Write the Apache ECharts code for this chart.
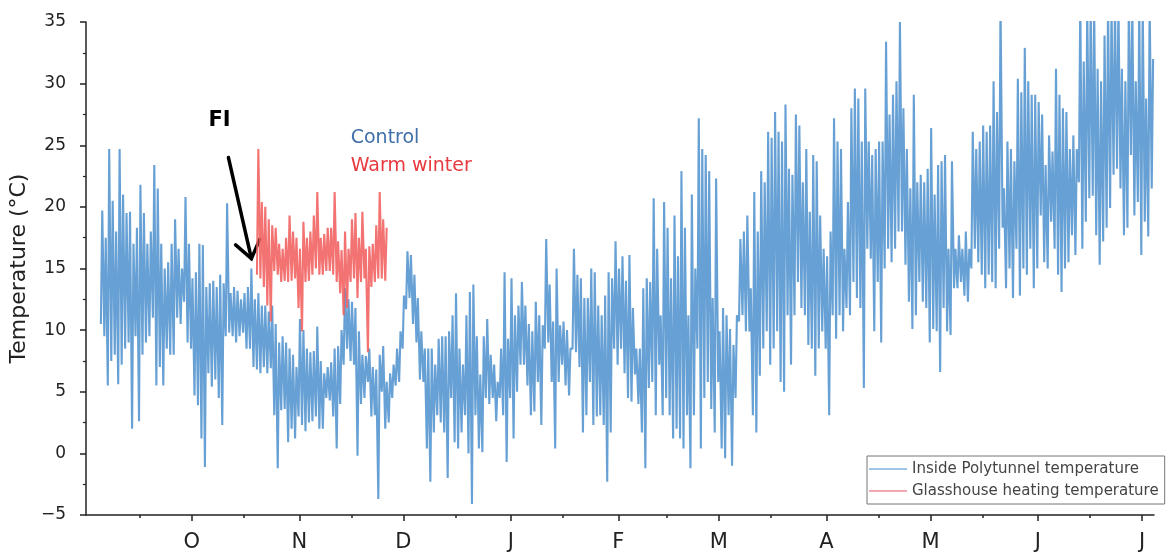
<!DOCTYPE html>
<html><head><meta charset="utf-8">
<script src="https://cdn.jsdelivr.net/npm/echarts@6/dist/echarts.min.js"></script>
<style>html,body{margin:0;padding:0;background:#fff}#c{width:1175px;height:558px}</style>
</head><body><div id="c"></div>
<script>
// ---------- data ----------
const monthLabels = ['O','N','D','J','F','M','A','M','J','J'];
const monthStarts = ['2019-10-01','2019-11-01','2019-12-01','2020-01-01','2020-02-01','2020-03-01','2020-04-01','2020-05-01','2020-06-01','2020-07-01'];
const midMonths = ['2019-09-16','2019-10-16','2019-11-16','2019-12-16','2020-01-16','2020-02-15','2020-03-16','2020-04-16','2020-05-16','2020-06-16'];

// Inside Polytunnel temperature: daily maximum / minimum, first day 2019-09-05
const polyStart = '2019-09-05';
const polyMax = [
 19.7,17.5,24.7,20.5,18,24.7,21,19.5,19.6,17,
 18.3,21.8,19.5,17,18,23.4,21.5,17,15,15.5,
 17,19,16.6,15,20.8,17,14.2,14.7,17,16.9,
 13.5,13.8,14,13.5,14.5,13.8,20.3,13,13.5,13.2,
 12.5,13,13.5,15,12.5,13,12,12,11.5,12,
 10.5,9,9.5,9,8.5,8,7,10.9,10,8.5,
 8.2,8.3,10.3,7.5,6.5,7,7.4,8.5,8.7,10,
 13.4,12.5,12.3,11.8,9.9,8,7.9,8.5,7,6.8,
 8,8.7,5.8,6.5,7.2,8.5,9.9,12.8,16.4,16.1,
 14.5,12.6,9.9,8.5,8.5,8.5,7.2,9.3,9.5,9.5,
 9.9,11.2,13,8.5,7.2,11.2,13.1,13.7,9.5,6.4,
 9.5,10.9,8,7.2,5.8,8.5,14.7,9.3,14.2,11.2,
 12,13.9,12,10.5,9.9,12.3,11.2,10.4,17.4,13.7,
 10.7,15,10.4,10.7,10,8.5,16.6,14.5,14.2,12.6,
 12.6,15,14.7,12,11.2,12.8,14.7,14.2,17.2,15,
 16,14,16.1,11.8,8.5,8.5,13.4,14.2,13.9,20.7,
 16.6,11.2,20.4,18.3,14.2,19.3,16,22.9,18.3,11.2,
 21,15,27.2,24.7,24.2,22.9,12.6,22.3,9.9,11.8,
 11.2,10.1,8.8,11.2,17.4,18,19.3,13.4,21.2,18,
 22.9,22,26.1,25.6,27.7,26.1,25.3,28.3,23.1,22.6,
 27.5,26.6,22,24.7,19.6,24.2,23.7,19.3,16.6,16,
 18,27.2,25.3,24.7,16.6,20.4,28,29.6,28.8,25.3,
 29.6,25.3,24.2,24.7,25.3,25.3,33.4,27.5,29.1,30.2,
 35,28,24.7,21.5,29.1,22,22.6,22,23.1,26.4,
 21,23.4,23.7,24.2,16.6,23.7,16.6,17.7,16.6,18,
 16.6,26.1,24.7,25.3,26.6,26.1,26.6,30.2,27.7,36.5,
 21.5,25.3,24.7,23.7,30.4,29.3,32.9,30.2,29.1,29.1,
 28.5,27.5,23.4,25.8,24.5,31.2,29.1,28,27.7,24.7,
 25.8,24.7,36.5,31.8,36.5,36.5,36.5,31.2,30.2,33.9,
 36.5,36.5,36.5,36.5,31.2,30.2,36.5,36.5,30.2,36.5,
 36.5,28.8,36.5,32
];
const polyMin = [
 10.5,9.5,5.5,7.5,8,5.6,7.2,8.5,9,2,
 9.5,2.6,8,9,9.5,11,5.5,7,5.5,8.5,
 8,8,11,10.5,12.3,9,8.5,4.7,3.9,1.2,
 -1.1,6.5,5.4,6,4.5,2.3,9.5,9.8,9.5,9,
 9.5,9.8,8.5,8.5,7,6.8,6.5,7,6.5,6.9,
 3.1,-1.2,3.5,3.6,0.9,2,1.2,3,2.3,1.8,
 2.5,2.6,3,2,2,4.5,4.3,3,0.4,4,
 7.2,8.5,7.5,7.2,-0.2,4,4.5,5.8,3,3.1,
 -3.7,5,2,2.5,4.5,5.5,5.8,8.5,11.7,12.6,
 10.5,9,6,5.8,0.4,-2.3,1.7,3.1,2.5,1.7,
 -2,4.5,0.9,0.4,1.7,3.1,0,-4.1,3.1,0.4,
 0.1,4.5,4,4.5,2.6,4.5,3.1,-0.7,4.5,1.2,
 5,7.2,7.2,5.5,3.1,3.4,5.8,2.3,8.5,9,
 5.8,0.4,5.8,7.2,5.5,4.7,8.5,8.2,7,1.7,
 3.1,5.8,2.3,3,3.1,2.3,-2.3,1.7,8.5,7.2,
 8.5,6.5,4.5,4.2,6.4,4,1.7,-1.2,5.3,5.8,
 3.1,7.2,3.1,4.5,3.1,1.2,2,1.2,0.4,3.1,
 -1.2,3.1,8.5,0.4,4.5,5.8,3.6,1.7,5.8,0.4,
 -0.4,3.1,-1,4.5,10.7,11.2,9.9,9.9,3.1,1.7,
 6.3,8.5,9.9,7.2,8.5,9.9,5.8,5,11.2,7.2,
 11.2,13.9,11.8,11.2,8.8,8.5,6.3,8.5,9.9,8.5,
 3.1,11.2,9.3,11.2,9.9,11.8,11.2,13.9,12.6,11.8,
 5.3,16.6,15.8,9.9,13.9,9,15,16.6,15.5,16.6,
 18,18,15.3,12.3,10.1,11.2,13.9,12.3,11.8,9,
 10.1,9.9,6.6,11.8,9.9,9.6,13.4,13.4,13.9,12.8,
 12.3,15,16.6,15.5,14.5,13.4,14.5,13.9,13.4,16.6,
 18.3,13.4,15,12.6,16.6,12.8,15,14.5,16.6,13.4,
 15,19.3,15.5,15,18.8,16.6,14.5,13.1,15,15.5,
 17.7,16.1,22,16.6,18.8,20.7,20.9,17.7,15.3,17.2,
 18.3,19.9,22.6,23.1,21.5,17.7,18.3,24.2,19.3,20.4,
 16.1,18.8,17.6,21.5
];

// Glasshouse heating temperature: daily maximum / minimum, first day 2019-10-20
const heatStart = '2019-10-20';
const heatMax = [24.7,20.4,20,19,18.5,18.3,17,16.6,17.5,19.3,18,17.5,16.6,18.8,17.5,18,19.3,21.2,17.5,17.8,18.3,18.3,21.2,17.2,16.5,18,16.6,19,19.5,17.5,19.6,16.6,16.8,17,18.5,21.2,19,18.3];
const heatMin = [14.5,14.2,13.5,12,10.7,14.8,14.5,13.9,14,13.9,14,14.2,11.8,9.9,13.9,14,14.5,15,14.5,14.5,14.8,14.8,14.5,13.9,13,11.2,11.8,13.9,14.2,12.6,13.9,14.2,8.2,13.5,13.9,14.2,14.2,14];

// annotations (data space)
const fiText = 'FI', fiAt = ['2019-10-09T00:00:00Z', 27.0];
const arrowFrom = ['2019-10-11T14:00:00Z', 24.0], arrowTo = ['2019-10-18T05:00:00Z', 15.8];
const controlText = 'Control', controlAt = ['2019-11-15T20:00:00Z', 25.6];
const warmText = 'Warm winter', warmAt = ['2019-11-15T20:00:00Z', 23.3];

// ---------- build ----------
const DAY = 86400000;
const ts = s => Date.parse(s.length === 10 ? s + 'T00:00:00Z' : s);
function dailySwing(start, maxs, mins) {
  const t0 = ts(start), out = [];
  for (let i = 0; i < maxs.length; i++) {
    const t = t0 + i * DAY;
    out.push([t - 0.2 * DAY, mins[i]]);
    out.push([t + 0.2 * DAY, maxs[i]]);
  }
  return out;
}
const monthTs = monthStarts.map(ts);
const midTs = midMonths.map(ts);
const FONT = 'DejaVu Sans';

const chart = echarts.init(document.getElementById('c'), null, {renderer: 'canvas'});
const xMin = ts('2019-08-31T12:00:00Z'), xMax = ts('2020-07-04T11:00:00Z');
chart.setOption({
  animation: false,
  backgroundColor: '#fff',
  grid: {left: 82, right: 21, top: 22, bottom: 43, containLabel: false},
  xAxis: [{
    type: 'value', min: xMin, max: xMax, scale: true,
    axisLine: {show: true, onZero: false, lineStyle: {color: '#222', width: 1.5}},
    axisTick: {show: true, customValues: monthTs, length: 6, lineStyle: {color: '#222', width: 1.5}},
    axisLabel: {show: true, customValues: monthTs, margin: 17, color: '#222', fontFamily: FONT, fontSize: 21,
      formatter: v => { const i = monthTs.indexOf(v); return i >= 0 ? monthLabels[i] : ''; }},
    splitLine: {show: false}
  }, {
    type: 'value', min: xMin, max: xMax, scale: true, position: 'bottom', gridIndex: 0,
    axisLine: {show: false, onZero: false},
    axisTick: {show: true, customValues: midTs, length: 3, lineStyle: {color: '#222', width: 1.5}},
    axisLabel: {show: false},
    splitLine: {show: false}
  }],
  yAxis: {
    type: 'value', min: -5, max: 35, interval: 5,
    name: 'Temperature (°C)', nameLocation: 'middle', nameGap: 55,
    nameTextStyle: {fontFamily: FONT, fontSize: 22, color: '#222'},
    axisLine: {show: true, lineStyle: {color: '#222', width: 1.5}},
    axisTick: {show: true, length: 6, lineStyle: {color: '#222', width: 1.5}},
    minorTick: {show: true, splitNumber: 2, length: 3, lineStyle: {color: '#222', width: 1.2}},
    axisLabel: {margin: 20, color: '#222', fontFamily: FONT, fontSize: 17,
      formatter: v => String(v).replace('-', '\u2212')},
    splitLine: {show: false}
  },
  legend: {
    orient: 'vertical', left: 867, top: 456,
    borderColor: '#777', borderWidth: 1, padding: [4, 6, 4, 2],
    icon: 'rect', itemWidth: 38, itemHeight: 1.5, itemGap: 4,
    textStyle: {fontFamily: FONT, fontSize: 15, color: '#444', lineHeight: 18},
    data: [
      {name: 'Inside Polytunnel temperature', itemStyle: {color: '#7fb1de'}},
      {name: 'Glasshouse heating temperature', itemStyle: {color: '#f28b98'}}
    ]
  },
  series: [{
    name: 'Inside Polytunnel temperature', type: 'line', xAxisIndex: 0,
    data: dailySwing(polyStart, polyMax, polyMin),
    showSymbol: false, symbol: 'none', clip: true,
    lineStyle: {color: '#5193ce', width: 2.1, opacity: 0.88},
    itemStyle: {color: '#5193ce'}
  }, {
    name: 'Glasshouse heating temperature', type: 'line', xAxisIndex: 0,
    data: dailySwing(heatStart, heatMax, heatMin),
    showSymbol: false, symbol: 'none', clip: true,
    lineStyle: {color: '#f0605f', width: 2.1, opacity: 0.88},
    itemStyle: {color: '#f0605f'}
  }]
});

// annotations positioned through the chart's own scales
function px(p) { return chart.convertToPixel({xAxisIndex: 0, yAxisIndex: 0}, [ts(p[0]), p[1]]); }
const a0 = px(arrowFrom), a1 = px(arrowTo);
const dx = a0[0] - a1[0], dy = a0[1] - a1[1], L = Math.hypot(dx, dy);
const ux = dx / L, uy = dy / L, armLen = 21, ang = Math.PI / 5;
const rot = a => [a1[0] + armLen * (ux * Math.cos(a) - uy * Math.sin(a)), a1[1] + armLen * (ux * Math.sin(a) + uy * Math.cos(a))];
const fi = px(fiAt), ctl = px(controlAt), warm = px(warmAt);
chart.setOption({
  graphic: [
    {type: 'text', x: fi[0], y: fi[1], style: {text: fiText, fontFamily: FONT, fontWeight: 'bold', fontSize: 21, fill: '#000', align: 'center', verticalAlign: 'middle'}},
    {type: 'line', shape: {x1: a0[0], y1: a0[1], x2: a1[0], y2: a1[1]}, style: {stroke: '#000', lineWidth: 3.5, lineCap: 'round'}},
    {type: 'polyline', shape: {points: [rot(ang), a1, rot(-ang)]}, style: {stroke: '#000', lineWidth: 3.5, fill: null, lineJoin: 'miter', lineCap: 'round'}},
    {type: 'text', x: ctl[0], y: ctl[1], style: {text: controlText, fontFamily: FONT, fontSize: 19, fill: '#3f6fa9', align: 'left', verticalAlign: 'middle'}},
    {type: 'text', x: warm[0], y: warm[1], style: {text: warmText, fontFamily: FONT, fontSize: 19, fill: '#e8393e', align: 'left', verticalAlign: 'middle'}}
  ]
});
</script>
</body></html>
